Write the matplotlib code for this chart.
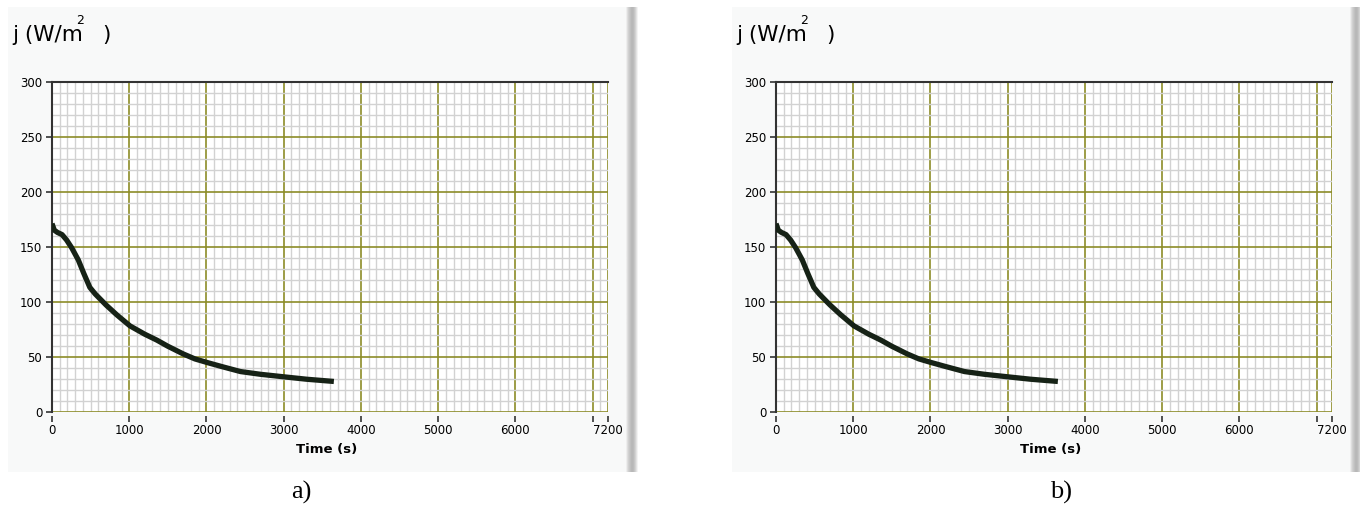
import numpy as np
import matplotlib.pyplot as plt
from matplotlib.patches import Rectangle
from matplotlib.ticker import MultipleLocator, FixedLocator

# curve (same in both panels)
t = [0, 30, 70, 130, 190, 255, 340, 410, 490, 560, 700, 840, 1010, 1200, 1360,
     1500, 1700, 1850, 2020, 2200, 2440, 2700, 3030, 3300, 3650]
j = [171, 165, 163, 161, 156, 149, 138, 126, 113, 107, 97, 88, 78, 70.5, 65,
     59.5, 52.5, 48, 44.5, 41, 36.5, 34, 31.5, 29.5, 27.5]

x_ticks = [0, 1000, 2000, 3000, 4000, 5000, 6000, 7000, 7200]
x_labels = ["0", "1000", "2000", "3000", "4000", "5000", "6000", "", "7200"]
y_ticks = [0, 50, 100, 150, 200, 250, 300]
panel_tags = ["a)", "b)"]

W, H = 1360, 513
fig = plt.figure(figsize=(W / 100, H / 100), dpi=100)
fig.patch.set_facecolor("white")


def fx(px):
    return px / W


def fy(py):
    return 1 - py / H


major_col = "#8c8c28"
minor_col = "#d2d2d2"

for k, off in enumerate([0, 724]):
    # panel background
    fig.patches.append(Rectangle((fx(8 + off), fy(472)), fx(620), (472 - 7) / H,
                                 transform=fig.transFigure, facecolor="#f8f9f9",
                                 edgecolor="none", zorder=-10))
    # shaded bar on the panel's right edge
    bx = fig.add_axes([fx(626 + off), fy(472), fx(12), (472 - 7) / H])
    grad = np.array([[0.93, 0.86, 0.80, 0.76, 0.73, 0.72, 0.74, 0.80, 0.88, 0.95]])
    bx.imshow(grad, cmap="gray", vmin=0, vmax=1, aspect="auto")
    bx.axis("off")

    ax = fig.add_axes([fx(52 + off), fy(411.7), fx(556), (411.7 - 81.7) / H])
    ax.set_facecolor("white")
    ax.set_xlim(0, 7200)
    ax.set_ylim(0, 300)

    ax.xaxis.set_major_locator(FixedLocator(x_ticks))
    ax.set_xticklabels(x_labels)
    ax.set_yticks(y_ticks)
    ax.xaxis.set_minor_locator(MultipleLocator(100))
    ax.yaxis.set_minor_locator(MultipleLocator(10))

    ax.grid(which="minor", color=minor_col, linewidth=1.0)
    ax.grid(which="major", color=major_col, linewidth=1.2)
    ax.set_axisbelow(True)

    for s in ["bottom", "right"]:
        ax.spines[s].set_visible(False)
    ax.spines["left"].set_color("#333333")
    ax.spines["top"].set_color("#333333")
    ax.spines["left"].set_linewidth(1.5)
    ax.spines["top"].set_linewidth(1.5)

    ax.tick_params(which="major", length=4, width=1.2, color="#333333",
                   labelsize=8.5, pad=3)
    ax.tick_params(which="minor", length=0)
    ax.tick_params(axis="x", direction="out", pad=2)
    ax.spines["bottom"].set_position(("outward", 3))

    ax.plot(t, j, color="#162216", linewidth=3.8, solid_capstyle="butt",
            solid_joinstyle="round", zorder=3)

    fig.text(fx(327 + off), fy(450), "Time (s)", fontsize=9.5, fontweight="bold",
             ha="center", va="center")

    fig.text(fx(12 + off), fy(35), "j (W/m", fontsize=15.5, ha="left", va="center")
    fig.text(fx(76 + off), fy(20), "2", fontsize=9, ha="left", va="center")
    fig.text(fx(102 + off), fy(35), ")", fontsize=15.5, ha="left", va="center")

    fig.text(fx(301 + off * 1.05), fy(492), panel_tags[k], fontsize=19,
             family="Liberation Serif", ha="center", va="center")

fig.savefig("out.png", dpi=100)
